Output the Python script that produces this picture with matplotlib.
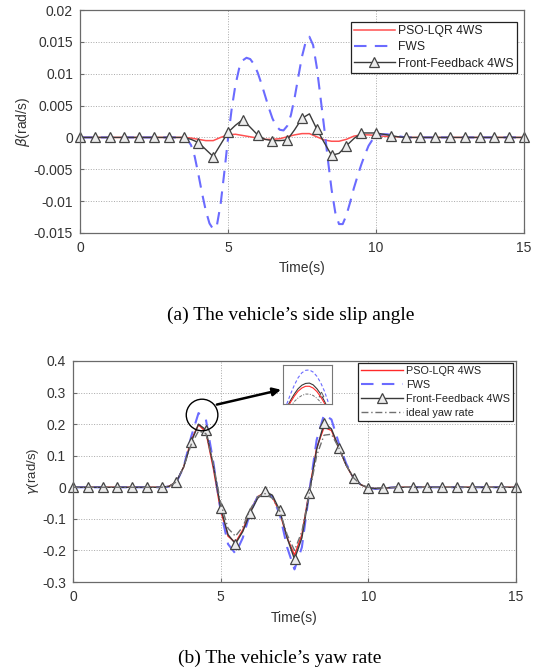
import numpy as np
import matplotlib
matplotlib.use("Agg")
import matplotlib.pyplot as plt
from matplotlib.patches import Ellipse
from matplotlib.lines import Line2D

# ---------------- data ----------------
t = [0, 0.5, 1, 1.5, 2, 2.5, 3,
     3.25, 3.5, 3.75, 4.0, 4.25, 4.5, 4.75, 5.0, 5.25, 5.5, 5.75, 6.0,
     6.25, 6.5, 6.75, 7.0, 7.25, 7.5, 7.75, 8.0, 8.25, 8.5, 8.75, 9.0,
     9.25, 9.5, 9.75, 10.0, 10.25, 10.5, 10.75, 11.0,
     11.5, 12, 12.5, 13, 13.5, 14, 14.5, 15]

# (a) side slip angle
beta_pso = [0, 0, 0, 0, 0, 0, 0,
            0, 0, -0.0001, -0.0003, -0.0005, -0.0005, 0.0, 0.0004, 0.0005, 0.0003, 0.0001, -0.0001,
            -0.0003, -0.0003, -0.0002, 0.0001, 0.0004, 0.0006, 0.0006, 0.0001, -0.0004, -0.0006, -0.0006, -0.0003,
            0.0002, 0.0004, 0.0004, 0.0003, 0.0002, 0.0001, 0.0001, 0.0,
            0, 0, 0, 0, 0, 0, 0, 0]
beta_ff = [0, 0, 0, 0, 0, 0, 0,
           0, 0, -0.0003, -0.0008, -0.0019, -0.003, -0.0011, 0.0008, 0.0019, 0.0028, 0.0016, 0.0004,
           -0.0003, -0.0005, -0.0005, -0.0004, 0.0012, 0.003, 0.0037, 0.0013, -0.0008, -0.0028, -0.0025, -0.0013,
           -0.0002, 0.0007, 0.0007, 0.0007, 0.0005, 0.0003, 0.0001, 0.0,
           0, 0, 0, 0, 0, 0, 0, 0]

# FWS side slip read on a finer time grid (it swings widely)
t_fws = [0, 1, 2, 3, 3.5,
         3.625, 3.75, 3.875, 4.0, 4.125, 4.25, 4.375, 4.5,
         4.625, 4.75, 4.875, 5.0, 5.125, 5.25, 5.375, 5.5,
         5.625, 5.75, 5.875, 6.0, 6.125, 6.25, 6.375, 6.5,
         6.625, 6.75, 6.875, 7.0, 7.125, 7.25, 7.375, 7.5,
         7.625, 7.75, 7.875, 8.0, 8.125, 8.25, 8.375, 8.5,
         8.625, 8.75, 8.875, 9.0, 9.125, 9.25, 9.375, 9.5,
         9.625, 9.75, 9.875, 10.0, 10.125, 10.25, 10.375, 10.5,
         10.75, 11.0, 12, 13, 14, 15]
beta_fws = [0, 0, 0, 0, 0,
            -0.0003, -0.0012, -0.003, -0.0058, -0.0088, -0.0115, -0.0135, -0.0144,
            -0.0138, -0.0105, -0.0055, -0.0002, 0.0045, 0.0082, 0.0108, 0.0121,
            0.0125, 0.0123, 0.0115, 0.0102, 0.0085, 0.0066, 0.0047, 0.003,
            0.0018, 0.0012, 0.0011, 0.0018, 0.0035, 0.0062, 0.0095, 0.0127,
            0.015, 0.0158, 0.0145, 0.011, 0.0063, 0.0015, -0.0035, -0.0082,
            -0.0118, -0.0136, -0.0136, -0.0122, -0.0102, -0.008, -0.0061, -0.0043,
            -0.0027, -0.0013, -0.0004, 0.0001, 0.0004, 0.0005, 0.0005, 0.0004,
            0.0002, 0.0, 0, 0, 0, 0]

# (b) yaw rate
yaw_pso = [0, 0, 0, 0, 0, 0, 0,
           0.003, 0.017, 0.065, 0.15, 0.198, 0.175, 0.06, -0.075, -0.155, -0.175, -0.135, -0.075,
           -0.03, -0.016, -0.03, -0.08, -0.16, -0.215, -0.15, -0.01, 0.125, 0.19, 0.18, 0.125,
           0.07, 0.028, 0.008, -0.002, -0.004, -0.003, -0.001, 0.0,
           0, 0, 0, 0, 0, 0, 0, 0]
yaw_fws = [0, 0, 0, 0, 0, 0, 0,
           0.002, 0.015, 0.065, 0.16, 0.235, 0.215, 0.08, -0.075, -0.18, -0.21, -0.16, -0.08,
           -0.03, -0.012, -0.03, -0.085, -0.19, -0.26, -0.19, -0.015, 0.15, 0.23, 0.215, 0.14,
           0.075, 0.03, 0.008, -0.003, -0.005, -0.003, -0.001, 0.0,
           0, 0, 0, 0, 0, 0, 0, 0]
yaw_ff = [0, 0, 0, 0, 0, 0, 0,
          0.003, 0.017, 0.065, 0.143, 0.2, 0.182, 0.07, -0.065, -0.15, -0.179, -0.14, -0.081,
          -0.035, -0.013, -0.025, -0.073, -0.16, -0.228, -0.16, -0.018, 0.12, 0.203, 0.185, 0.126,
          0.07, 0.029, 0.008, -0.002, -0.004, -0.003, -0.001, 0.0,
          0, 0, 0, 0, 0, 0, 0, 0]
yaw_ideal = [0, 0, 0, 0, 0, 0, 0,
             0.003, 0.017, 0.065, 0.135, 0.178, 0.17, 0.075, -0.05, -0.13, -0.155, -0.125, -0.07,
             -0.03, -0.02, -0.035, -0.075, -0.15, -0.2, -0.14, -0.02, 0.1, 0.165, 0.168, 0.125,
             0.07, 0.03, 0.008, 0.0, -0.002, -0.002, -0.001, 0.0,
             0, 0, 0, 0, 0, 0, 0, 0]

# zoomed inset (peak near t = 4.3 s)
t_in = [4.05, 4.1, 4.15, 4.2, 4.25, 4.3, 4.35, 4.4, 4.45, 4.5, 4.55, 4.6]
in_fws = [0.150, 0.178, 0.203, 0.224, 0.238, 0.245, 0.246, 0.240, 0.228, 0.210, 0.186, 0.155]
in_ff = [0.140, 0.160, 0.178, 0.193, 0.203, 0.208, 0.209, 0.204, 0.193, 0.178, 0.158, 0.135]
in_pso = [0.135, 0.155, 0.172, 0.186, 0.195, 0.200, 0.200, 0.195, 0.185, 0.170, 0.152, 0.130]
in_ideal = [0.125, 0.143, 0.157, 0.167, 0.174, 0.178, 0.178, 0.174, 0.166, 0.155, 0.140, 0.120]

x_ticks = [0, 5, 10, 15]
beta_ticks = [-0.015, -0.01, -0.005, 0, 0.005, 0.01, 0.015, 0.02]
beta_ticklabels = ['-0.015', '-0.01', '-0.005', '0', '0.005', '0.01', '0.015', '0.02']
yaw_ticks = [-0.3, -0.2, -0.1, 0, 0.1, 0.2, 0.3, 0.4]
yaw_ticklabels = ['-0.3', '-0.2', '-0.1', '0', '0.1', '0.2', '0.3', '0.4']

labels_a = ['PSO-LQR 4WS', 'FWS', 'Front-Feedback 4WS']
labels_b = ['PSO-LQR 4WS', 'FWS', 'Front-Feedback 4WS', 'ideal yaw rate']

# ---------------- style ----------------
plt.rcParams['font.family'] = ['Liberation Sans', 'DejaVu Sans']
plt.rcParams['mathtext.fontset'] = 'dejavusans'

W, H = 536, 671
fig = plt.figure(figsize=(W / 100, H / 100), dpi=100)
fig.patch.set_facecolor('white')

RED = '#ff2a2a'
BLUE = '#6b6bff'
BLK = '#3a3a3a'
GRAY = '#707070'
SPINE = '#6a6a6a'
TXT = '#333333'

mk_idx = [i for i, v in enumerate(t) if abs(v * 2 - round(v * 2)) < 1e-9]


def px_axes(l, r, top, bot):
    return [l / W, 1 - bot / H, (r - l) / W, (bot - top) / H]


def style_axes(ax, yticks, ylabels, ylim):
    ax.set_xlim(0, 15)
    ax.set_ylim(*ylim)
    ax.set_xticks(x_ticks)
    ax.set_xticklabels([str(v) for v in x_ticks])
    ax.set_yticks(yticks)
    ax.set_yticklabels(ylabels)
    ax.grid(True, linestyle=':', color='#a8a8a8', linewidth=0.7)
    ax.set_axisbelow(True)
    for s in ax.spines.values():
        s.set_color(SPINE)
        s.set_linewidth(0.9)
    ax.tick_params(direction='in', length=3, color=SPINE, labelcolor=TXT,
                   labelsize=10, width=0.8)
    ax.tick_params(axis='y', pad=5)
    ax.tick_params(axis='x', pad=6)


def ff_handle():
    return Line2D([], [], color=BLK, lw=1.0, marker='^', markersize=6.5,
                  markerfacecolor='#ececec', markeredgecolor='#444444',
                  markeredgewidth=0.9)


# ---------------- (a) ----------------
ax1 = fig.add_axes(px_axes(80, 524, 10, 233))
style_axes(ax1, beta_ticks, beta_ticklabels, (-0.015, 0.02))
ax1.plot(t, beta_pso, color='#ff5050', lw=1.1)
ax1.plot(t_fws, beta_fws, color=BLUE, lw=1.5, dashes=(6, 4))
ax1.plot(t, beta_ff, color=BLK, lw=1.0, marker='^', markevery=mk_idx,
         markersize=6.5, markerfacecolor='#ececec', markeredgecolor='#444444',
         markeredgewidth=0.9, clip_on=False)
h1 = [Line2D([], [], color='#ff5050', lw=1.1),
      Line2D([], [], color=BLUE, lw=1.5, dashes=(6, 4)),
      ff_handle()]
leg1 = ax1.legend(h1, labels_a, loc='upper right',
                  bbox_to_anchor=(0.984, 0.946), fontsize=8.7, frameon=True,
                  fancybox=False, edgecolor='#222222', framealpha=1,
                  handlelength=3.4, handletextpad=0.3, borderpad=0.25,
                  labelspacing=0.35, borderaxespad=0)
leg1.get_frame().set_linewidth(0.9)
for tx in leg1.get_texts():
    tx.set_color('#222222')

ax1.set_xlabel('Time(s)', fontsize=10, color=TXT)
ax1.xaxis.set_label_coords(0.5, -0.157)
ax1.xaxis.label.set_va('center')
ax1.set_ylabel(r'$\beta$(rad/s)', fontsize=10, color=TXT)
ax1.yaxis.set_label_coords(-0.128, 0.5)
ax1.yaxis.label.set_va('center')

fig.text(291 / W, 1 - 315 / H, '(a) The vehicle\u2019s side slip angle',
         family='Liberation Serif', fontsize=14, ha='center', va='center',
         color='black')

# ---------------- (b) ----------------
ax2 = fig.add_axes(px_axes(73, 516, 361, 582))
style_axes(ax2, yaw_ticks, yaw_ticklabels, (-0.3, 0.4))
ax2.plot(t, yaw_pso, color=RED, lw=1.0)
ax2.plot(t, yaw_fws, color=BLUE, lw=1.5, dashes=(6, 4))
ax2.plot(t, yaw_ff, color=BLK, lw=1.0, marker='^', markevery=mk_idx,
         markersize=6.5, markerfacecolor='#ececec', markeredgecolor='#444444',
         markeredgewidth=0.9, clip_on=False)
ax2.plot(t, yaw_ideal, color=GRAY, lw=1.0, dashes=(5, 2, 1, 2))
h2 = [Line2D([], [], color=RED, lw=1.0),
      Line2D([], [], color=BLUE, lw=1.5, dashes=(6, 4)),
      ff_handle(),
      Line2D([], [], color=GRAY, lw=1.0, dashes=(5, 2, 1, 2))]
leg2 = ax2.legend(h2, labels_b, loc='upper right',
                  bbox_to_anchor=(0.993, 0.991), fontsize=7.8, frameon=True,
                  fancybox=False, edgecolor='#222222', framealpha=1,
                  handlelength=3.9, handletextpad=0.3, borderpad=0.25,
                  labelspacing=0.38, borderaxespad=0)
leg2.get_frame().set_linewidth(0.9)
for tx in leg2.get_texts():
    tx.set_color('#222222')

ax2.set_xlabel('Time(s)', fontsize=10, color=TXT)
ax2.xaxis.set_label_coords(0.5, -0.163)
ax2.xaxis.label.set_va('center')
ax2.set_ylabel(r'$\gamma$(rad/s)', fontsize=9.5, color=TXT)
ax2.yaxis.set_label_coords(-0.09, 0.5)
ax2.yaxis.label.set_va('center')

# circle and arrow highlighting the first peak
ax2.add_patch(Ellipse((4.37, 0.229), width=1.07, height=0.1, fill=False,
                      lw=1.0, ec='black', zorder=6))
ax2.annotate('', xy=(7.04, 0.309), xytext=(4.87, 0.262),
             arrowprops=dict(arrowstyle='-|>', lw=1.8, color='black',
                             mutation_scale=12, shrinkA=0, shrinkB=0),
             zorder=6)

# inset
axi = fig.add_axes(px_axes(283, 332, 365, 404))
axi.plot(t_in, in_fws, color=BLUE, lw=0.8, dashes=(3, 2))
axi.plot(t_in, in_ff, color=BLK, lw=0.8, marker='^', markevery=[9],
         markersize=3.5, markerfacecolor='#e8e8e8', markeredgecolor='#555555',
         markeredgewidth=0.6)
axi.plot(t_in, in_pso, color=RED, lw=0.8)
axi.plot(t_in, in_ideal, color=GRAY, lw=0.7, dashes=(3, 1.5, 1, 1.5))
axi.set_xlim(4.0, 4.65)
axi.set_ylim(0.15, 0.26)
axi.set_xticks([])
axi.set_yticks([])
for s in axi.spines.values():
    s.set_color('#777777')
    s.set_linewidth(0.8)

fig.text(280 / W, 1 - 658 / H, '(b) The vehicle\u2019s yaw rate',
         family='Liberation Serif', fontsize=14, ha='center', va='center',
         color='black')

fig.savefig('out.png', dpi=100, facecolor='white')
